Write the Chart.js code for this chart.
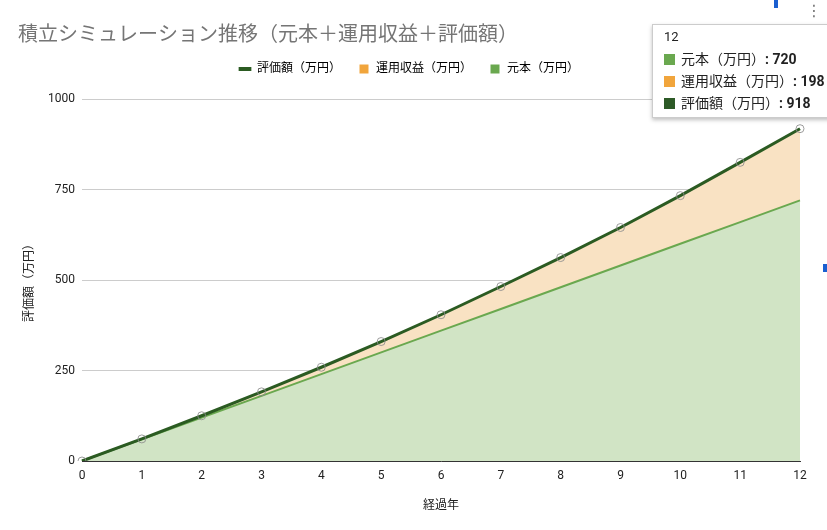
<!DOCTYPE html>
<html>
<head>
<meta charset="utf-8">
<script src="https://cdn.jsdelivr.net/npm/chart.js@4"></script>
<style>
  html, body { margin: 0; padding: 0; background: #fff; }
  #wrap { position: relative; width: 827px; height: 530px; overflow: hidden; }
  #tip {
    position: absolute; left: 652px; top: 24px; width: 180px; height: 92px;
    background: #fff; border: 1px solid #ccc; box-shadow: 0 2px 4px rgba(0,0,0,0.25);
    font-family: Roboto, "Noto Sans CJK JP", sans-serif; font-size: 14px; color: #222;
  }
  #tip .ttl { position: absolute; left: 11px; top: 4px; font-size: 13px; }
  #tip .row { position: absolute; left: 11px; white-space: nowrap; }
  #tip .sw { display: inline-block; width: 11px; height: 11px; margin-right: 6px; vertical-align: -1px; }
  #tip b { font-weight: 700; }
  #kebab { position: absolute; left: 806px; top: 1px; font: 16px "DejaVu Sans"; color: #777; }
  .blue { position: absolute; background: #1a5fd0; }
</style>
</head>
<body>
<div id="wrap">
  <canvas id="c" width="827" height="530"></canvas>
  <div id="tip"></div>
  <div id="kebab">⋮</div>
  <div class="blue" style="left:774px;top:0;width:4px;height:8px"></div>
  <div class="blue" style="left:823px;top:264px;width:4px;height:8px"></div>
</div>
<script>
// 経過年
const years = ['0', '1', '2', '3', '4', '5', '6', '7', '8', '9', '10', '11', '12'];
// 元本（万円）
const principal = [0, 60, 120, 180, 240, 300, 360, 420, 480, 540, 600, 660, 720];
// 運用収益（万円）
const gains = [0, 1, 5, 11, 19, 30, 44, 62, 82, 105, 133, 165, 198];
// 評価額（万円）
const valuation = [0, 61, 125, 191, 259, 330, 404, 482, 562, 645, 733, 825, 918];
const yTicks = [0, 250, 500, 750, 1000];

const LABELS = ['元本（万円）', '運用収益（万円）', '評価額（万円）'];
const COLORS = { principal: '#6aa84f', gains: '#f1a53c', valuation: '#2b5b22' };
const FONT = 'Roboto, "Noto Sans CJK JP", sans-serif';

// fixed legend height so the plot starts where the original does
const legendHeight = {
    id: 'legendHeight',
    afterInit(chart) {
        const lg = chart.legend;
        const fit = lg.fit;
        lg.fit = function () {
            fit.call(this);
            this.height = 53;
        };
    }
};

const ctx = document.getElementById('c').getContext('2d');
const chart = new Chart(ctx, {
    type: 'line',
    data: {
        labels: years,
        datasets: [
            {
                label: LABELS[0],
                data: principal,
                stack: 'a',
                borderColor: COLORS.principal,
                backgroundColor: '#d1e4c5',
                borderWidth: 2,
                fill: 'origin',
                pointRadius: 0,
                tension: 0,
            },
            {
                label: LABELS[1],
                data: gains,
                stack: 'a',
                borderColor: 'rgba(0,0,0,0)',
                backgroundColor: '#f9e2c3',
                borderWidth: 0,
                fill: '-1',
                pointRadius: 0,
                tension: 0,
            },
            {
                label: LABELS[2],
                data: valuation,
                stack: 'b',
                order: -1,
                borderColor: COLORS.valuation,
                borderWidth: 3,
                fill: false,
                pointRadius: 4,
                pointBackgroundColor: 'rgba(0,0,0,0)',
                pointBorderColor: 'rgba(140,140,140,0.85)',
                pointBorderWidth: 1,
                tension: 0,
            }
        ]
    },
    plugins: [legendHeight],
    options: {
        responsive: false,
        animation: false,
        layout: { padding: { left: 18, right: 27, top: 14, bottom: 0 } },
        plugins: {
            tooltip: { enabled: false },
            title: {
                display: true,
                text: '積立シミュレーション推移（元本＋運用収益＋評価額）',
                align: 'start',
                color: '#757575',
                font: { family: FONT, size: 20, weight: 'normal' },
                padding: { top: 10, bottom: -2 },
            },
            legend: {
                display: true,
                labels: {
                    usePointStyle: true,
                    boxHeight: 9,
                    padding: 17,
                    color: '#222',
                    font: { family: FONT, size: 12 },
                    generateLabels: (c) => {
                        return [
                            { text: LABELS[2], datasetIndex: 2, pointStyle: 'line', strokeStyle: COLORS.valuation, fillStyle: COLORS.valuation, lineWidth: 4 },
                            { text: LABELS[1], datasetIndex: 1, pointStyle: 'rect', strokeStyle: COLORS.gains, fillStyle: COLORS.gains, lineWidth: 0 },
                            { text: LABELS[0], datasetIndex: 0, pointStyle: 'rect', strokeStyle: COLORS.principal, fillStyle: COLORS.principal, lineWidth: 0 },
                        ];
                    }
                }
            }
        },
        scales: {
            x: {
                offset: false,
                grid: { display: false, drawTicks: false },
                border: { color: '#333', width: 1 },
                ticks: { color: '#222', font: { family: FONT, size: 12 }, padding: 8, maxRotation: 0 },
                title: { display: true, text: '経過年', color: '#222', font: { family: FONT, size: 12 }, padding: { top: 4, bottom: 17 } },
                afterFit: (s) => { s.height = 69; }
            },
            y: {
                stacked: true,
                min: 0,
                max: 1000,
                afterBuildTicks: (s) => { s.ticks = yTicks.map(v => ({ value: v })); },
                grid: { color: '#cccccc', drawTicks: false },
                border: { display: false },
                ticks: { color: '#222', font: { family: FONT, size: 12 }, padding: 7, callback: (v) => String(v) },
                title: { display: true, text: '評価額（万円）', color: '#222', font: { family: FONT, size: 12 }, padding: { top: 5, bottom: 4 } },
                afterFit: (s) => { s.width = 64; }
            }
        }
    }
});

// hover tooltip at the last year
const last = years.length - 1;
const rows = [
    [COLORS.principal, LABELS[0], principal[last]],
    [COLORS.gains, LABELS[1], gains[last]],
    ['#2d5a27', LABELS[2], valuation[last]],
];
let html = `<div class="ttl">${years[last]}</div>`;
rows.forEach((r, i) => {
    html += `<div class="row" style="top:${23 + i * 22}px"><span class="sw" style="background:${r[0]}"></span>${r[1]}<b>: ${r[2]}</b></div>`;
});
document.getElementById('tip').innerHTML = html;
</script>
</body>
</html>
